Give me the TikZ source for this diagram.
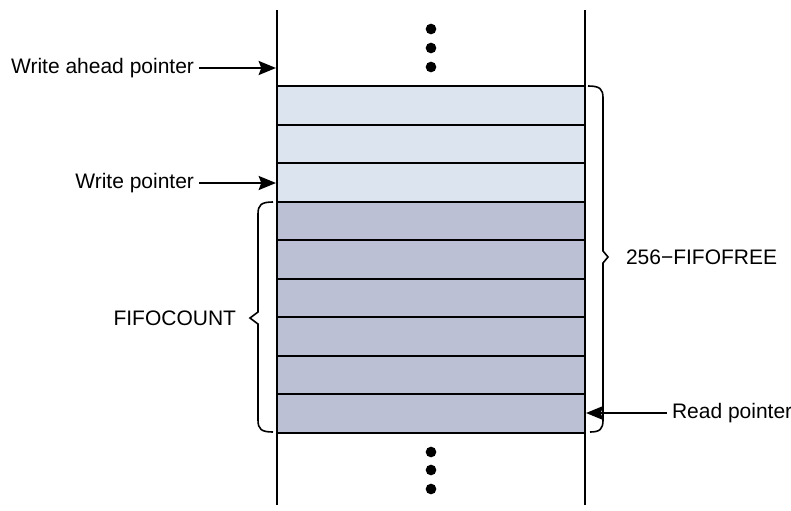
\documentclass[tikz,border=0pt]{standalone}
\usepackage{fontspec}
\setmainfont{Liberation Sans}
\usetikzlibrary{arrows.meta}

\definecolor{freecell}{RGB}{220,229,239}
\definecolor{usedcell}{RGB}{187,192,212}

\tikzset{every picture/.style={line width=1.5pt}}
\tikzset{
  ptrlabel/.style={inner sep=3pt,font=\fontsize{15.75}{19}\selectfont},
  ptrarrow/.style={-{Stealth[length=13pt,width=10.5pt,inset=2pt]}},
  brace/.style={line width=1.2pt,line join=miter}
}

\begin{document}
\begin{tikzpicture}[x=0.75pt,y=0.75pt,yscale=-1,xscale=1]
\useasboundingbox (0,0) rectangle (791,510);

%Cells: free part and used part
\foreach \i in {0,1,2}
  \draw[fill=freecell] (277,86+38.5*\i) rectangle (585,124.5+38.5*\i);
\foreach \i in {3,...,8}
  \draw[fill=usedcell] (277,86+38.5*\i) rectangle (585,124.5+38.5*\i);

%Straight Lines: sides of the buffer
\draw (277,10) -- (277,505);
\draw (585,10) -- (585,505);

%Dots above and below
\foreach \y in {29,48,67,452,470,489}
  \fill (431,\y) circle (4pt);

%Braces
\draw[brace] (588,86) .. controls (600,86) and (603,89) .. (603,98) -- (603,251) -- (608,257) -- (603,263) -- (603,420) .. controls (603,429) and (600,432) .. (590,432);
\draw[brace] (273,202) .. controls (261,202) and (258,205) .. (258,214) -- (258,312) -- (250,318) -- (258,324) -- (258,420) .. controls (258,429) and (261,432) .. (273,432);

% Text Node
\node[ptrlabel,anchor=east] (wap) at (199,68) {Write ahead pointer};
% Text Node
\node[ptrlabel,anchor=east] (wp) at (199,183) {Write pointer};
% Text Node
\node[ptrlabel,anchor=west] (rp) at (667,413) {Read pointer};
% Text Node
\node[ptrlabel,anchor=west] (free) at (621,257) {256−FIFOFREE};
% Text Node
\node[ptrlabel,anchor=east] (count) at (241,318) {FIFOCOUNT};

\coordinate (wapend) at (276,68);
\coordinate (wpend) at (276,183);
\coordinate (rpend) at (586,413);

%Arrows
\draw[ptrarrow] (wap.east) -- (wapend);
\draw[ptrarrow] (wp.east) -- (wpend);
\draw[ptrarrow] (rp.west) -- (rpend);

\end{tikzpicture}
\end{document}
